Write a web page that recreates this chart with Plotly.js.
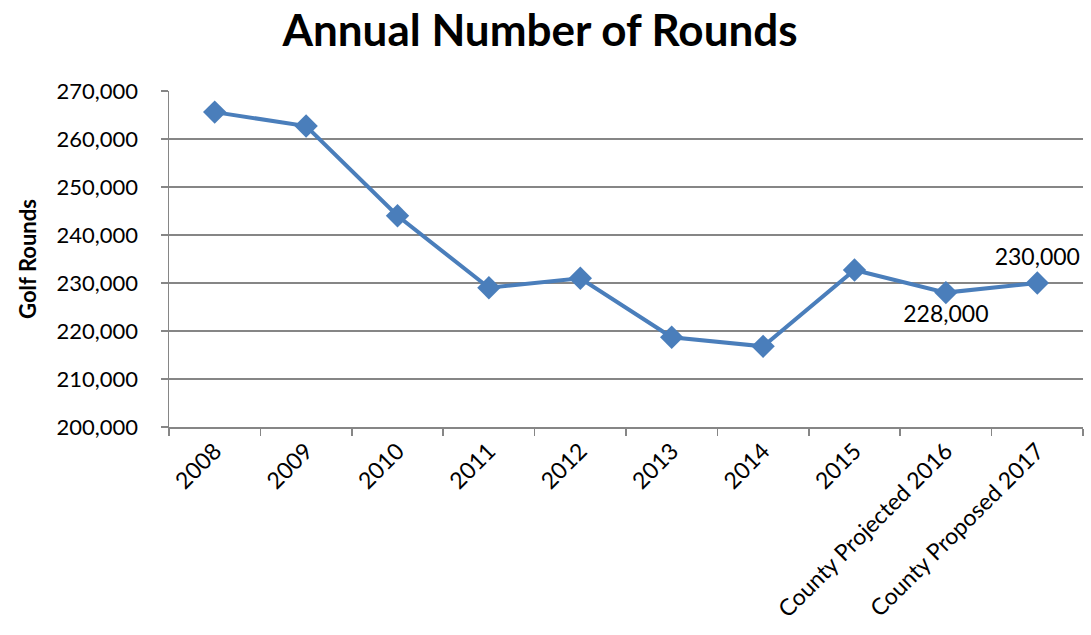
<!DOCTYPE html>
<html>
<head>
<meta charset="utf-8">
<script src="https://cdn.plot.ly/plotly-3.0.1.min.js"></script>
<style>html,body{margin:0;padding:0;background:#fff;}#chart{width:1091px;height:635px;}</style>
</head>
<body>
<div id="chart"></div>
<script>
const categories = ["2008","2009","2010","2011","2012","2013","2014","2015","County Projected 2016","County Proposed 2017"];
const rounds = [265600, 262700, 244000, 229000, 231000, 218700, 216800, 232700, 228000, 230000];
const labels = ["", "", "", "", "", "", "", "", "228,000", "230,000"];
const labelPositions = ["top center","top center","top center","top center","top center","top center","top center","top center","bottom center","top center"];
const yTicks = [200000, 210000, 220000, 230000, 240000, 250000, 260000, 270000];
const yTickText = ["200,000","210,000","220,000","230,000","240,000","250,000","260,000","270,000"];

const FONT = "Lato, 'Open Sans', sans-serif";

const trace = {
  x: categories,
  y: rounds,
  type: 'scatter',
  mode: 'lines+markers+text',
  text: labels,
  textposition: labelPositions,
  textfont: {family: FONT, size: 23, color: '#000'},
  line: {color: '#4a7ebb', width: 4},
  marker: {symbol: 'diamond', size: 18, color: '#4a7ebb'},
  cliponaxis: false,
  hoverinfo: 'none'
};

const layout = {
  width: 1091, height: 635,
  margin: {l: 169, r: 8, t: 91, b: 208},
  paper_bgcolor: '#fff', plot_bgcolor: '#fff',
  showlegend: false,
  title: {text: '<b>Annual Number of Rounds</b>', font: {family: FONT, size: 44, color: '#000'}, x: 0.495, xanchor: 'center', y: 0.952, yanchor: 'middle'},
  xaxis: {
    type: 'category',
    tickson: 'boundaries',
    ticks: 'outside', ticklen: 7, tickcolor: '#868686', tickwidth: 1.5,
    showline: true, linecolor: '#868686', linewidth: 1.5,
    showgrid: false,
    tickangle: -45,
    tickfont: {family: FONT, size: 23, color: '#000'},
    range: [-0.5, 9.5]
  },
  yaxis: {
    range: [200000, 270000],
    tickvals: yTicks, ticktext: yTickText,
    ticks: 'outside', ticklen: 7, tickcolor: '#868686', tickwidth: 1.5,
    ticklabelstandoff: 18,
    showline: true, linecolor: '#868686', linewidth: 1.5,
    showgrid: true, gridcolor: '#868686', gridwidth: 1.5,
    zeroline: false,
    tickfont: {family: FONT, size: 22, color: '#000'},
    title: {text: '<b>Golf Rounds</b>', font: {family: FONT, size: 22, color: '#000'}, standoff: 14}
  }
};

Plotly.newPlot('chart', [trace], layout, {displayModeBar: false, staticPlot: true});
</script>
</body>
</html>
